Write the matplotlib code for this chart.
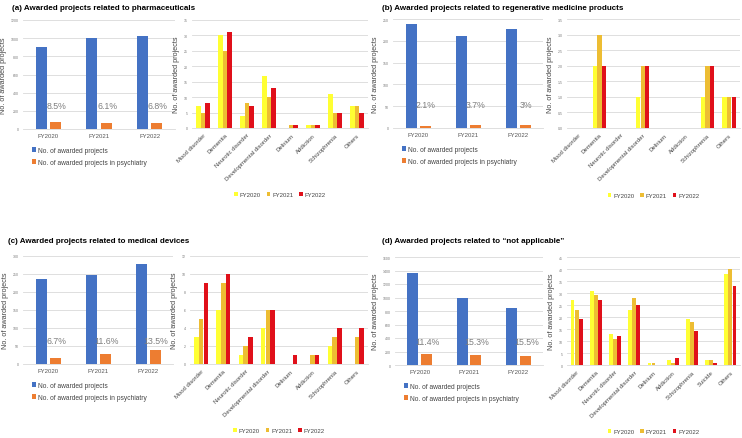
import matplotlib.pyplot as plt
import matplotlib.transforms as mtransforms
import numpy as np

plt.rcParams['font.family'] = ['Liberation Sans', 'DejaVu Sans']

years = ['FY2020', 'FY2021', 'FY2022']
cats8 = ['Mood disorder', 'Dementia', 'Neurotic disorder', 'Developmental disorder',
         'Delirium', 'Addiction', 'Schizophrenia', 'Others']
cats9 = ['Mood disorder', 'Dementia', 'Neurotic disorder', 'Developmental disorder',
         'Delirium', 'Addiction', 'Schizophrenia', 'Suicide', 'Others']

# (a) pharmaceuticals
a_total = [900, 1002, 1027]
a_psych = [76, 61, 70]
a_pct = ['8.5%', '6.1%', '6.8%']
a_fy20 = [7, 30, 4, 17, 0, 1, 11, 7]
a_fy21 = [5, 25, 8, 10, 1, 1, 5, 7]
a_fy22 = [8, 31, 7, 13, 1, 1, 5, 5]

# (b) regenerative medicine products
b_total = [238, 212, 226]
b_psych = [5, 8, 7]
b_pct = ['2.1%', '3.7%', '3%']
b_fy20 = [0, 2, 0, 1, 0, 0, 1, 1]
b_fy21 = [0, 3, 0, 2, 0, 0, 2, 1]
b_fy22 = [0, 2, 0, 2, 0, 0, 2, 1]

# (c) medical devices
c_total = [235, 248, 279]
c_psych = [16, 29, 38]
c_pct = ['6.7%', '11.6%', '13.5%']
c_fy20 = [3, 6, 1, 4, 0, 0, 2, 0]
c_fy21 = [5, 9, 2, 6, 0, 1, 3, 3]
c_fy22 = [9, 10, 3, 6, 1, 1, 4, 4]

# (d) not applicable
d_total = [1368, 990, 850]
d_psych = [156, 151, 132]
d_pct = ['11.4%', '15.3%', '15.5%']
d_fy20 = [27, 31, 13, 23, 1, 2, 19, 2, 38]
d_fy21 = [23, 29, 11, 28, 1, 1, 18, 2, 40]
d_fy22 = [19, 27, 12, 25, 0, 3, 14, 1, 33]

BLUE = '#4472C4'
ORANGE = '#ED7D31'
YCOLS = ['#FFFF33', '#EDBD33', '#E0101A']
GRID = '#D9D9D9'

W, H = 742, 439
fig = plt.figure(figsize=(W / 100, H / 100), dpi=100)


def box(x0, y0, x1, y1):
    # pixel box (top-left origin) -> figure fraction
    return [x0 / W, 1 - y1 / H, (x1 - x0) / W, (y1 - y0) / H]


def style(ax, ymax, step):
    ax.set_ylim(0, ymax)
    ax.set_yticks(np.arange(0, ymax + step / 2, step))
    ax.yaxis.grid(True, color=GRID, lw=0.6)
    ax.set_axisbelow(True)
    for s in ['top', 'right', 'left']:
        ax.spines[s].set_visible(False)
    ax.spines['bottom'].set_color(GRID)
    ax.spines['bottom'].set_linewidth(0.6)
    ax.tick_params(axis='y', length=0, labelsize=2.5, labelcolor='#777777', pad=3)
    ax.tick_params(axis='x', length=0, pad=3)
    ax.set_ylabel('No. of awarded projects', fontsize=5.2, color='#444444', labelpad=3)


def total_chart(rect, total, psych, pct, ymax, step):
    ax = fig.add_axes(box(*rect))
    x = np.arange(len(years))
    ax.bar(x - 0.14, total, 0.22, color=BLUE, label='No. of awarded projects')
    ax.bar(x + 0.14, psych, 0.22, color=ORANGE, label='No. of awarded projects in psychiatry')
    style(ax, ymax, step)
    ax.set_xlim(-0.5, 2.5)
    ax.set_xticks(x)
    ax.set_xticklabels(years, fontsize=4.3, color='#555555')
    tr = mtransforms.blended_transform_factory(ax.transData, ax.transAxes)
    for xi, p in zip(x, pct):
        ax.text(xi + 0.16, 0.22, p, transform=tr, ha='center', va='center',
                fontsize=6.3, color='#7F7F7F')
    ax.legend(loc='upper left', bbox_to_anchor=(0.04, -0.14), frameon=False,
              fontsize=4.8, handlelength=0.6, handleheight=0.6, handletextpad=0.4,
              labelspacing=0.75, borderaxespad=0, labelcolor='#444444')
    return ax


def disease_chart(rect, cats, vals, ymax, step):
    ax = fig.add_axes(box(*rect))
    x = np.arange(len(cats))
    for i, (v, yr) in enumerate(zip(vals, years)):
        ax.bar(x + (i - 1) * 0.21, v, 0.2, color=YCOLS[i], label=yr)
    style(ax, ymax, step)
    ax.set_xlim(-0.5, len(cats) - 0.5)
    ax.set_xticks(x)
    ax.set_xticklabels(cats, fontsize=4.3, color='#444444', rotation=45,
                       ha='right', rotation_mode='anchor')
    ax.legend(loc='center', bbox_to_anchor=(0.5, -0.62), ncol=3, frameon=False,
              fontsize=4.3, handlelength=0.6, handleheight=0.6, handletextpad=0.3,
              columnspacing=1.0, borderaxespad=0, labelcolor='#444444')
    return ax


# titles
fig.text(12 / W, 1 - 8 / H, '(a) Awarded projects related to pharmaceuticals',
         fontsize=5.8, fontweight='bold', va='center', ha='left')
fig.text(382 / W, 1 - 8 / H, '(b) Awarded projects related to regenerative medicine products',
         fontsize=5.8, fontweight='bold', va='center', ha='left')
fig.text(8 / W, 1 - 242 / H, '(c) Awarded projects related to medical devices',
         fontsize=5.8, fontweight='bold', va='center', ha='left')
fig.text(382 / W, 1 - 242 / H, '(d) Awarded projects related to \u201cnot applicable\u201d',
         fontsize=5.8, fontweight='bold', va='center', ha='left')

total_chart((23, 21, 175, 130), a_total, a_psych, a_pct, 1200, 200)
disease_chart((192, 21, 368, 129), cats8, [a_fy20, a_fy21, a_fy22], 35, 5)

total_chart((393, 20, 543, 129), b_total, b_psych, b_pct, 250, 50)
disease_chart((567, 20, 740, 129), cats8, [b_fy20, b_fy21, b_fy22], 3.5, 0.5)

total_chart((23, 257, 173, 365), c_total, c_psych, c_pct, 300, 50)
disease_chart((190, 257, 368, 365), cats8, [c_fy20, c_fy21, c_fy22], 12, 2)

total_chart((395, 258, 543, 366), d_total, d_psych, d_pct, 1600, 200)
disease_chart((567, 258, 740, 366), cats9, [d_fy20, d_fy21, d_fy22], 45, 5)

fig.savefig('out.png', dpi=100)
